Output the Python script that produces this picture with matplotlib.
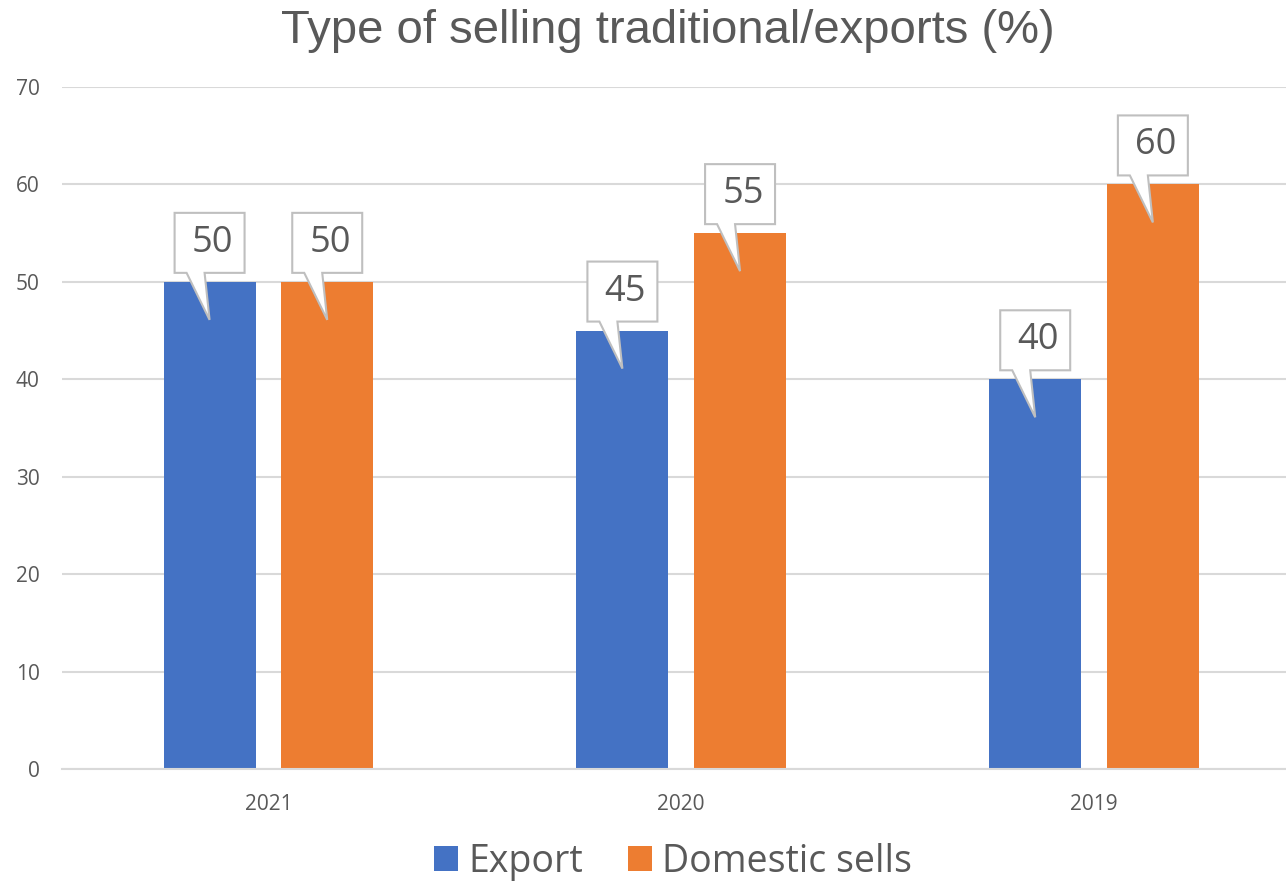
import matplotlib.pyplot as plt
from matplotlib.patches import Polygon
import numpy as np

years = ["2021", "2020", "2019"]
export = [50, 45, 40]
domestic = [50, 55, 60]
series_names = ["Export", "Domestic sells"]

BLUE = "#4472C4"
ORANGE = "#ED7D31"
GRAY_TXT = "#595959"

plt.rcParams['font.family'] = ['Open Sans', 'DejaVu Sans']

fig = plt.figure(figsize=(12.86, 8.86), dpi=100)
ax = fig.add_axes([62 / 1286, 1 - 769 / 886, (1286 - 62) / 1286, (769 - 87) / 886])

x = np.arange(len(years))
w = 0.223
off = 0.1425
ax.bar(x - off, export, w, color=BLUE, label=series_names[0], zorder=2)
ax.bar(x + off, domestic, w, color=ORANGE, label=series_names[1], zorder=2)

ax.set_xlim(-0.5, 2.465)
ax.set_ylim(0, 70)
ax.set_yticks(range(0, 71, 10))
ax.set_xticks(x)
ax.set_xticklabels(years)
ax.yaxis.grid(True, color="#d9d9d9", linewidth=1.5, zorder=0)
ax.set_axisbelow(True)
for s in ["top", "right", "left"]:
    ax.spines[s].set_visible(False)
ax.spines["bottom"].set_color("#d9d9d9")
ax.spines["bottom"].set_linewidth(1.5)
ax.tick_params(axis="both", length=0, labelsize=15, colors=GRAY_TXT)
ax.tick_params(axis="x", pad=18)
ax.tick_params(axis="y", pad=16)

# callout boxes, sized in pixels and converted to data units
px_x = 1 / 413.0
px_y = 70 / 682.0


def callout(cx, val):
    half = 35 * px_x
    bot = val + 9 * px_y
    top = bot + 60 * px_y
    tip = val - 3.9
    pts = [(cx - half, bot), (cx - 23 * px_x, bot), (cx, tip), (cx - 5 * px_x, bot),
           (cx + half, bot), (cx + half, top), (cx - half, top)]
    ax.add_patch(Polygon(pts, closed=True, facecolor="white", edgecolor="#bfbfbf",
                         linewidth=1.5, zorder=3))
    ax.text(cx + 3 * px_x, (bot + top) / 2, f"{val}", ha="center", va="center",
            fontsize=26, color=GRAY_TXT, zorder=4)


for i in range(len(years)):
    callout(x[i] - off, export[i])
    callout(x[i] + off, domestic[i])

fig.text(668 / 1286, 1 - 31 / 886, "Type of selling traditional/exports (%)",
         ha="center", va="center", fontsize=34, color=GRAY_TXT,
         family=['Liberation Sans', 'DejaVu Sans'])

fig.legend(loc="center", bbox_to_anchor=(673 / 1286, 1 - 862 / 886), ncol=2, frameon=False,
           fontsize=27, handlelength=0.64, handleheight=0.64, handletextpad=0.27,
           columnspacing=1.2, labelcolor=GRAY_TXT)

plt.savefig("out.png", dpi=100)
